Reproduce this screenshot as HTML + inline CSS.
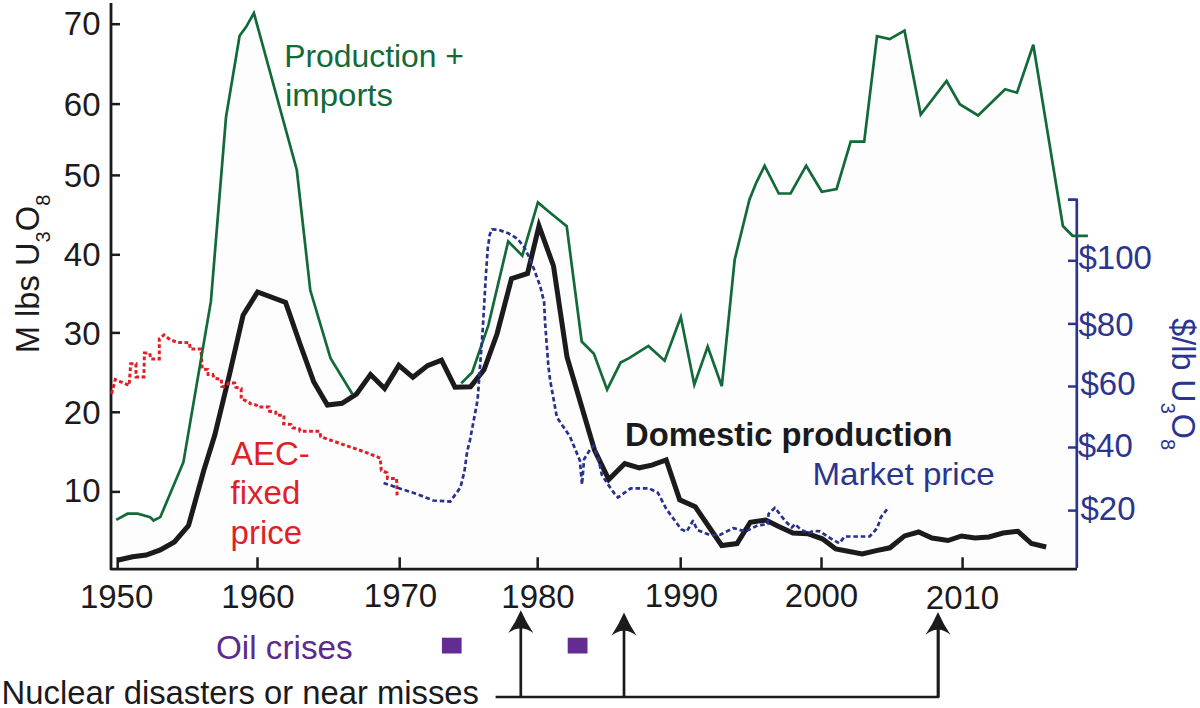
<!DOCTYPE html>
<html><head><meta charset="utf-8"><style>
html,body{margin:0;padding:0;background:#fff;}
svg{display:block;}
text{font-family:"Liberation Sans", sans-serif;}
</style></head><body>
<svg width="1200" height="708" viewBox="0 0 1200 708">
<rect width="1200" height="708" fill="#ffffff"/>
<polygon points="116.2,519.9 127.5,513.7 137.7,513.7 150.1,517.1 153.5,520.5 160.3,517.1 183.4,462.2 210.9,301.4 226.0,117.1 239.6,35.7 246.0,27.1 253.9,13.0 296.8,170.0 310.3,290.3 330.5,358.2 352.5,394.2 356.4,394.2 370.5,374.5 384.6,388.6 398.8,365.4 412.9,377.3 427.5,365.6 441.5,360.1 455.0,387.2 461.2,383.4 472.1,372.5 488.4,325.1 508.2,241.4 522.3,255.6 537.9,202.4 548.6,211.5 566.7,226.2 581.7,341.5 593.9,353.8 607.1,389.7 620.6,362.6 629.1,358.1 648.4,345.9 664.6,360.7 680.8,317.0 694.3,384.7 707.7,346.6 721.8,386.2 734.7,259.6 749.4,199.7 756.2,182.8 764.6,165.8 778.8,193.5 790.6,193.5 806.2,165.7 821.8,191.8 836.6,189.0 850.7,141.7 864.2,141.7 877.0,36.2 889.7,39.1 904.5,30.6 920.7,114.6 946.6,81.0 959.8,104.2 978.1,115.5 1005.1,89.3 1017.0,92.7 1033.3,44.7 1062.9,226.0 1072.6,235.8 1077.0,235.8 1077.0,569.0 111.0,569.0 111.0,519.9" fill="#fdfdfd"/>
<polyline points="111,3 111,569.2 1077,569.2" fill="none" stroke="#1b1a1c" stroke-width="2.8" stroke-linejoin="round"/>
<line x1="111" y1="24.2" x2="120" y2="24.2" stroke="#1b1a1c" stroke-width="2.5"/>
<line x1="111" y1="104.1" x2="120" y2="104.1" stroke="#1b1a1c" stroke-width="2.5"/>
<line x1="111" y1="175.4" x2="120" y2="175.4" stroke="#1b1a1c" stroke-width="2.5"/>
<line x1="111" y1="254.8" x2="120" y2="254.8" stroke="#1b1a1c" stroke-width="2.5"/>
<line x1="111" y1="332.9" x2="120" y2="332.9" stroke="#1b1a1c" stroke-width="2.5"/>
<line x1="111" y1="412.3" x2="120" y2="412.3" stroke="#1b1a1c" stroke-width="2.5"/>
<line x1="111" y1="491.9" x2="120" y2="491.9" stroke="#1b1a1c" stroke-width="2.5"/>
<line x1="117.7" y1="569" x2="117.7" y2="557.3" stroke="#1b1a1c" stroke-width="2.5"/>
<line x1="257.5" y1="569" x2="257.5" y2="557.3" stroke="#1b1a1c" stroke-width="2.5"/>
<line x1="399.7" y1="569" x2="399.7" y2="557.3" stroke="#1b1a1c" stroke-width="2.5"/>
<line x1="537.7" y1="569" x2="537.7" y2="557.3" stroke="#1b1a1c" stroke-width="2.5"/>
<line x1="680.7" y1="569" x2="680.7" y2="557.3" stroke="#1b1a1c" stroke-width="2.5"/>
<line x1="821.5" y1="569" x2="821.5" y2="557.3" stroke="#1b1a1c" stroke-width="2.5"/>
<line x1="962.6" y1="569" x2="962.6" y2="557.3" stroke="#1b1a1c" stroke-width="2.5"/>
<polyline points="1068,199.7 1076.8,199.7 1076.8,568" fill="none" stroke="#2b3590" stroke-width="2.7" stroke-linejoin="round"/>
<line x1="1068" y1="260.8" x2="1076.8" y2="260.8" stroke="#2b3590" stroke-width="2.5"/>
<line x1="1068" y1="323.9" x2="1076.8" y2="323.9" stroke="#2b3590" stroke-width="2.5"/>
<line x1="1068" y1="386.5" x2="1076.8" y2="386.5" stroke="#2b3590" stroke-width="2.5"/>
<line x1="1068" y1="447.5" x2="1076.8" y2="447.5" stroke="#2b3590" stroke-width="2.5"/>
<line x1="1068" y1="510.6" x2="1076.8" y2="510.6" stroke="#2b3590" stroke-width="2.5"/>
<polyline points="117.3,560.3 132.6,556.7 146.2,555.0 160.3,549.9 174.4,542.0 188.5,525.6 203.7,470.8 214.8,435.0 229.6,374.0 243.1,315.3 257.6,292.0 285.6,302.5 300.3,344.7 313.8,382.0 327.4,405.1 342.0,403.3 356.4,394.2 370.5,374.5 384.6,388.6 398.8,365.4 412.9,377.3 427.5,365.6 441.5,360.1 455.0,387.2 470.5,386.8 484.0,369.8 497.0,334.0 511.5,278.6 527.5,273.5 539.0,226.0 553.5,266.0 567.0,357.0 594.5,450.0 608.8,479.5 624.8,463.5 639.2,467.8 651.9,465.2 666.2,460.0 679.7,499.8 695.3,506.8 721.7,545.5 737.0,543.6 750.3,522.2 765.8,520.1 778.2,526.3 792.9,533.1 807.6,533.7 822.3,538.8 835.8,549.0 848.1,551.2 862.2,554.0 876.3,550.6 889.9,547.8 904.6,535.9 918.6,532.0 932.0,538.0 948.0,540.5 961.5,536.0 975.0,538.0 989.0,537.0 1003.0,533.0 1018.0,531.3 1031.4,543.5 1046.2,547.0" fill="none" stroke="#1b1a1c" stroke-width="5.0" stroke-linejoin="miter" stroke-miterlimit="6"/>
<polyline points="111.6,393.9 115.3,379.6 129.1,385.4 130.7,363.7 136.0,363.7 136.0,376.9 143.9,376.9 144.4,353.1 149.7,353.1 150.8,358.9 159.3,358.9 159.3,338.8 164.0,335.0 170.4,339.8 177.8,342.5 189.5,342.7 190.2,349.0 201.0,349.0 202.2,369.0 207.7,369.4 208.1,374.5 212.8,374.5 214.1,378.3 221.3,379.2 221.7,386.4 225.5,386.8 228.5,383.0 234.8,383.0 235.7,387.2 241.2,388.5 241.2,399.1 245.0,400.3 249.2,402.5 250.0,403.7 256.2,405.0 257.5,406.9 269.0,406.9 269.6,411.3 275.6,412.0 276.2,415.3 284.1,415.3 283.6,423.8 290.9,424.4 292.6,427.8 299.4,428.9 300.0,431.2 319.7,431.2 320.8,436.8 370.0,453.8 371.7,454.7 380.2,458.1 381.3,470.5 387.0,472.8 387.5,478.4 396.6,478.4 397.1,495.4" fill="none" stroke="#e01f26" stroke-width="3.0" stroke-dasharray="3.8 2.5"/>
<polyline points="116.2,519.9 127.5,513.7 137.7,513.7 150.1,517.1 153.5,520.5 160.3,517.1 183.4,462.2 210.9,301.4 226.0,117.1 239.6,35.7 246.0,27.1 253.9,13.0 296.8,170.0 310.3,290.3 330.5,358.2 352.5,394.2" fill="none" stroke="#116a38" stroke-width="2.7" stroke-linejoin="miter"/>
<polyline points="461.2,383.4 472.1,372.5 488.4,325.1 508.2,241.4 522.3,255.6 537.9,202.4 548.6,211.5 566.7,226.2 581.7,341.5 593.9,353.8 607.1,389.7 620.6,362.6 629.1,358.1 648.4,345.9 664.6,360.7 680.8,317.0 694.3,384.7 707.7,346.6 721.8,386.2 734.7,259.6 749.4,199.7 756.2,182.8 764.6,165.8 778.8,193.5 790.6,193.5 806.2,165.7 821.8,191.8 836.6,189.0 850.7,141.7 864.2,141.7 877.0,36.2 889.7,39.1 904.5,30.6 920.7,114.6 946.6,81.0 959.8,104.2 978.1,115.5 1005.1,89.3 1017.0,92.7 1033.3,44.7 1062.9,226.0 1072.6,235.8 1087.9,235.8" fill="none" stroke="#116a38" stroke-width="2.7" stroke-linejoin="miter"/>
<polyline points="383.6,482.9 398.2,488.0 417.5,494.2 433.3,500.5 450.2,501.6 460.4,487.5 464.4,471.6 467.2,451.3 470.0,440.0 477.6,400.0 482.7,330.0 486.0,273.5 487.7,248.9 489.8,234.5 492.0,229.4 498.7,229.8 508.9,233.6 517.4,238.7 524.2,247.2 529.2,257.4 534.3,270.1 540.0,285.6 544.1,301.8 545.1,323.0 548.3,365.3 550.1,380.0 556.9,417.3 570.0,436.6 579.9,460.6 582.0,484.6 584.1,459.2 589.8,450.0 593.3,445.8 598.2,457.8 601.8,474.7 608.1,484.6 614.5,493.6 618.0,497.5 630.7,488.3 649.1,488.3 657.9,492.8 666.4,509.1 681.2,529.3 686.7,531.6 692.9,520.8 697.4,530.0 709.8,535.0 719.7,535.0 733.5,528.1 745.4,531.5 757.3,525.6 767.5,524.1 768.6,513.9 774.9,507.7 785.0,520.7 791.8,527.5 795.2,524.1 800.8,529.7 808.8,533.1 813.3,530.8 820.0,531.4 831.4,538.8 839.2,543.3 844.7,536.5 869.5,536.5 872.9,533.1 877.5,527.5 880.8,517.3 888.8,507.1" fill="none" stroke="#28318c" stroke-width="2.7" stroke-dasharray="4.6 2.8" stroke-linejoin="round"/>
<text x="100.5" y="35.3" font-family="Liberation Sans, sans-serif" font-size="33" text-anchor="end" fill="#1b1a1c">70</text>
<text x="100.5" y="116.3" font-family="Liberation Sans, sans-serif" font-size="33" text-anchor="end" fill="#1b1a1c">60</text>
<text x="100.5" y="186.7" font-family="Liberation Sans, sans-serif" font-size="33" text-anchor="end" fill="#1b1a1c">50</text>
<text x="100.5" y="266.1" font-family="Liberation Sans, sans-serif" font-size="33" text-anchor="end" fill="#1b1a1c">40</text>
<text x="100.5" y="345.2" font-family="Liberation Sans, sans-serif" font-size="33" text-anchor="end" fill="#1b1a1c">30</text>
<text x="100.5" y="424.3" font-family="Liberation Sans, sans-serif" font-size="33" text-anchor="end" fill="#1b1a1c">20</text>
<text x="100.5" y="501.9" font-family="Liberation Sans, sans-serif" font-size="33" text-anchor="end" fill="#1b1a1c">10</text>
<text x="116.6" y="607.8" font-family="Liberation Sans, sans-serif" font-size="33" text-anchor="middle" fill="#1b1a1c">1950</text>
<text x="258" y="607.8" font-family="Liberation Sans, sans-serif" font-size="33" text-anchor="middle" fill="#1b1a1c">1960</text>
<text x="400.5" y="607.3" font-family="Liberation Sans, sans-serif" font-size="33" text-anchor="middle" fill="#1b1a1c">1970</text>
<text x="538" y="607.5" font-family="Liberation Sans, sans-serif" font-size="33" text-anchor="middle" fill="#1b1a1c">1980</text>
<text x="681.5" y="607.3" font-family="Liberation Sans, sans-serif" font-size="33" text-anchor="middle" fill="#1b1a1c">1990</text>
<text x="821.5" y="606.8" font-family="Liberation Sans, sans-serif" font-size="33" text-anchor="middle" fill="#1b1a1c">2000</text>
<text x="962.5" y="609" font-family="Liberation Sans, sans-serif" font-size="33" text-anchor="middle" fill="#1b1a1c">2010</text>
<text x="1078.5" y="269" font-family="Liberation Sans, sans-serif" font-size="33" fill="#2b3590">$100</text>
<text x="1078.5" y="336" font-family="Liberation Sans, sans-serif" font-size="33" fill="#2b3590">$80</text>
<text x="1080.5" y="395.3" font-family="Liberation Sans, sans-serif" font-size="33" fill="#2b3590">$60</text>
<text x="1077.7" y="457" font-family="Liberation Sans, sans-serif" font-size="33" fill="#2b3590">$40</text>
<text x="1080.5" y="520" font-family="Liberation Sans, sans-serif" font-size="33" fill="#2b3590">$20</text>
<text transform="translate(38.8,353.2) rotate(-90)" font-family="Liberation Sans, sans-serif" font-size="32.7" fill="#1b1a1c">M lbs U<tspan font-size="20" dy="11">3</tspan><tspan dy="-11">O</tspan><tspan font-size="20" dy="11">8</tspan></text>
<text transform="translate(1171.5,318.3) rotate(90)" font-family="Liberation Sans, sans-serif" font-size="32.3" fill="#2b3590">$/lb U<tspan font-size="20" dy="11">3</tspan><tspan dy="-11">O</tspan><tspan font-size="20" dy="11">8</tspan></text>
<text x="284.2" y="66.7" font-family="Liberation Sans, sans-serif" font-size="31.5" fill="#116a38" textLength="179.8" lengthAdjust="spacingAndGlyphs">Production +</text>
<text x="285" y="105.8" font-family="Liberation Sans, sans-serif" font-size="31.5" fill="#116a38" textLength="108" lengthAdjust="spacingAndGlyphs">imports</text>
<text x="231" y="464.9" font-family="Liberation Sans, sans-serif" font-size="33" fill="#e01f26">AEC-</text>
<text x="230.6" y="504.3" font-family="Liberation Sans, sans-serif" font-size="33" fill="#e01f26">fixed</text>
<text x="230.6" y="543.7" font-family="Liberation Sans, sans-serif" font-size="33" fill="#e01f26">price</text>
<text x="625" y="445.6" font-family="Liberation Sans, sans-serif" font-size="32.5" font-weight="bold" fill="#1b1a1c" textLength="327.6" lengthAdjust="spacingAndGlyphs">Domestic production</text>
<text x="812.5" y="485.1" font-family="Liberation Sans, sans-serif" font-size="32" fill="#2b3590" textLength="182.2" lengthAdjust="spacingAndGlyphs">Market price</text>
<text x="216" y="658.6" font-family="Liberation Sans, sans-serif" font-size="32.5" fill="#5c2a8d" textLength="136.6" lengthAdjust="spacingAndGlyphs">Oil crises</text>
<text x="1.6" y="704.1" font-family="Liberation Sans, sans-serif" font-size="32.5" fill="#1b1a1c" textLength="477.4" lengthAdjust="spacingAndGlyphs">Nuclear disasters or near misses</text>
<rect x="441.9" y="637.7" width="19.7" height="15.8" fill="#632c93"/>
<rect x="567.7" y="637.7" width="19.8" height="15.8" fill="#632c93"/>
<polyline points="495.6,697 938.3,697 938.3,630" fill="none" stroke="#1b1a1c" stroke-width="2.7" stroke-linejoin="round"/>
<path d="M520.8,610.3 Q526.0,622.2 533.3,633.0 Q525.8,628.0 520.8,628.6 Q515.8,628.0 508.3,633.0 Q515.6,622.2 520.8,610.3 Z" fill="#1b1a1c"/><line x1="520.8" y1="626.6" x2="520.8" y2="697.0" stroke="#1b1a1c" stroke-width="2.7"/>
<path d="M624.0,612.4 Q629.2,624.5 636.5,635.4 Q629.0,630.1 624.0,630.7 Q619.0,630.1 611.5,635.4 Q618.8,624.5 624.0,612.4 Z" fill="#1b1a1c"/><line x1="624.0" y1="628.7" x2="624.0" y2="697.0" stroke="#1b1a1c" stroke-width="2.7"/>
<path d="M938.0,612.0 Q943.2,624.0 950.5,634.7 Q943.0,629.1 938.0,629.7 Q933.0,629.1 925.5,634.7 Q932.8,624.0 938.0,612.0 Z" fill="#1b1a1c"/><line x1="938.0" y1="627.7" x2="938.0" y2="697.0" stroke="#1b1a1c" stroke-width="2.7"/>
</svg>
</body></html>
